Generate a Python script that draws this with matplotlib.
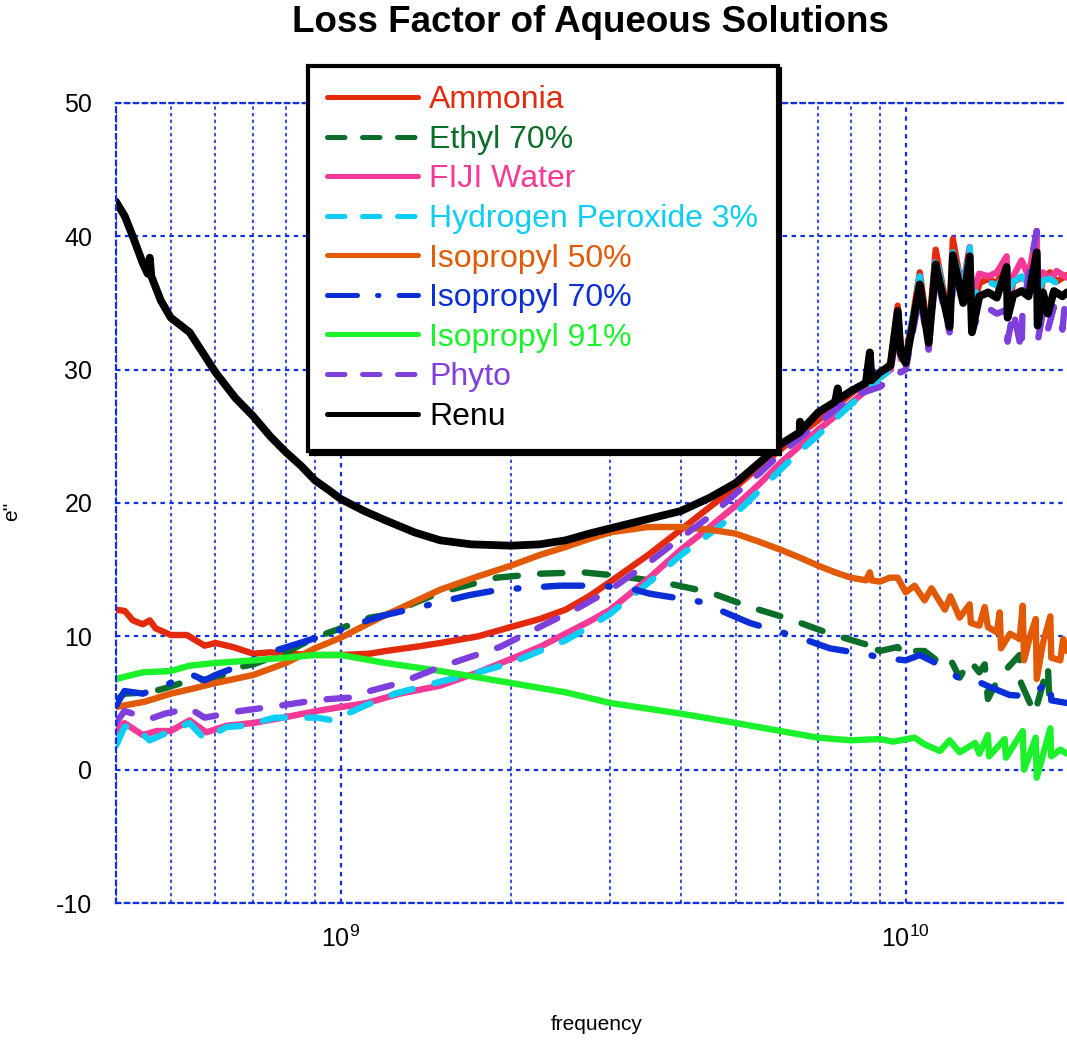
import numpy as np
import matplotlib
matplotlib.use("Agg")
import matplotlib.pyplot as plt
from matplotlib.ticker import LogLocator, LogFormatterMathtext, NullFormatter

plt.rcParams['font.family'] = ['Liberation Sans', 'DejaVu Sans']
plt.rcParams['mathtext.fontset'] = 'custom'
plt.rcParams['mathtext.rm'] = 'Liberation Sans'
plt.rcParams['mathtext.it'] = 'Liberation Sans:italic'
plt.rcParams['axes.unicode_minus'] = False

# frequencies in GHz, values of e''
ammonia_f = [0.400, 0.4147, 0.4283, 0.446, 0.459, 0.47, 0.5, 0.534, 0.574, 0.6, 0.644, 0.7, 0.749, 0.8, 0.9, 1.0,
             1.126, 1.2, 1.35, 1.5, 1.75, 2.0, 2.25, 2.5, 2.75, 3.0, 3.5, 4.0, 4.5, 5.0, 5.5, 6.0, 6.5, 7.0, 7.5,
             8.0, 8.5, 9.0, 9.4, 9.68, 9.8, 10.0, 10.3, 10.59, 10.98, 11.3, 11.96, 12.12, 12.64, 12.98, 13.1,
             13.5, 14.0, 14.5, 15.09, 15.15, 15.5, 16.04, 16.5, 17.06, 17.12, 17.5, 18.0, 18.5, 19.29]
ammonia = [12.0, 11.9, 11.2, 10.9, 11.2, 10.6, 10.1, 10.1, 9.3, 9.5, 9.2, 8.7, 8.8, 8.7, 8.6, 8.6,
           8.7, 8.9, 9.2, 9.5, 10.0, 10.7, 11.3, 12.0, 13.0, 14.1, 16.1, 18.0, 19.7, 21.2, 22.7, 24.0, 25.2, 26.2, 27.2,
           28.2, 29.0, 29.7, 30.5, 34.8, 31.5, 31.0, 34.0, 37.3, 32.5, 39.0, 33.5, 39.8, 35.5, 39.0, 34.0,
           36.5, 36.8, 36.5, 38.0, 34.5, 36.6, 36.9, 36.6, 39.5, 34.5, 36.8, 37.3, 36.6, 37.1]

ethyl_f = [0.400, 0.414, 0.459, 0.488, 0.54, 0.6, 0.663, 0.7, 0.8, 0.9, 1.0, 1.126, 1.2, 1.5, 1.888, 2.26, 2.68,
           3.0, 3.67, 4.5, 5.3, 6.23, 7.34, 8.5, 8.64, 8.7, 9.0, 9.68, 10.0, 10.37, 10.8, 11.5, 11.96, 12.46,
           12.98, 13.5, 13.8, 13.98, 14.67, 15.91, 16.0, 16.92, 17.85, 17.95, 18.78, 19.29]
ethyl = [5.2, 5.7, 5.8, 6.1, 6.7, 6.8, 7.7, 7.9, 8.8, 9.9, 10.6, 11.4, 11.6, 13.3, 14.4, 14.7, 14.8,
         14.6, 14.1, 13.3, 12.2, 11.3, 10.2, 9.4, 9.8, 9.2, 8.9, 9.2, 8.5, 8.9, 8.9, 8.0, 8.4, 6.9,
         8.2, 7.3, 7.9, 5.3, 7.0, 8.6, 6.5, 4.2, 7.8, 5.5, 5.7, 5.4]

fiji_f = [0.400, 0.414, 0.446, 0.472, 0.5, 0.54, 0.578, 0.628, 0.7, 0.79, 0.907, 0.968, 1.112, 1.2, 1.272, 1.5,
          1.75, 2.0, 2.25, 2.5, 2.75, 3.0, 3.5, 4.0, 4.5, 5.0, 5.5, 6.0, 6.5, 7.0, 7.5, 8.0, 8.5, 9.0, 9.4,
          9.68, 9.8, 10.0, 10.3, 10.59, 10.98, 11.3, 11.96, 12.12, 12.64, 12.98, 13.1, 13.5, 14.0, 14.5,
          15.09, 15.15, 15.5, 16.04, 16.5, 17.06, 17.12, 17.5, 18.0, 18.5, 19.29]
fiji = [2.9, 3.5, 2.6, 2.9, 2.9, 3.7, 2.8, 3.3, 3.5, 3.9, 4.4, 4.6, 5.0, 5.4, 5.7, 6.3,
        7.3, 8.3, 9.2, 10.2, 11.1, 12.0, 14.3, 16.5, 18.2, 19.8, 21.4, 23.0, 24.3, 25.5, 26.5, 27.5, 28.4, 29.4, 30.0,
        33.0, 30.8, 30.7, 33.5, 36.0, 32.0, 38.0, 33.0, 38.3, 36.5, 39.2, 35.5, 37.2, 37.0, 37.3,
        38.5, 35.0, 37.0, 38.2, 37.0, 40.4, 35.0, 37.3, 36.8, 37.4, 36.9]

peroxide_f = [0.400, 0.414, 0.4283, 0.459, 0.488, 0.54, 0.574, 0.628, 0.676, 0.764, 0.907, 0.968, 1.103, 1.246,
              1.5, 1.75, 2.0, 2.25, 2.5, 2.75, 3.0, 3.5, 4.0, 4.5, 5.0, 5.5, 6.0, 6.5, 7.0, 7.5, 8.0, 8.5, 9.0,
              9.4, 9.68, 9.8, 10.0, 10.3, 10.59, 10.98, 11.3, 11.96, 12.12, 12.64, 12.98, 13.1, 13.5, 14.0,
              14.5, 15.09, 15.15, 15.5, 16.04, 16.5, 17.06, 17.12, 17.5, 18.0, 18.5, 19.29]
peroxide = [1.8, 3.2, 3.3, 2.2, 2.7, 3.5, 2.3, 3.2, 3.3, 3.9, 3.9, 3.7, 4.8, 5.7,
            6.6, 7.3, 8.0, 8.9, 9.7, 10.7, 11.7, 14.0, 16.1, 17.7, 19.2, 20.9, 22.5, 23.9, 25.1, 26.3, 27.4, 28.3, 29.4,
            30.0, 33.5, 31.0, 31.0, 34.0, 37.0, 32.2, 38.7, 33.2, 38.8, 36.0, 39.4, 35.0, 36.5, 36.6,
            36.3, 37.2, 35.8, 36.6, 37.0, 36.4, 38.2, 35.8, 36.7, 36.8, 36.5, 36.6]

iso50_f = [0.400, 0.45, 0.5, 0.55, 0.6, 0.7, 0.8, 0.9, 1.0, 1.1, 1.2, 1.35, 1.5, 1.75, 2.0, 2.25, 2.5, 2.75,
           3.0, 3.5, 4.0, 4.5, 5.0, 5.5, 6.0, 6.5, 7.0, 7.5, 8.0, 8.5, 8.64, 8.7, 9.0, 9.37, 9.68, 10.0,
           10.37, 10.8, 11.11, 11.73, 12.0, 12.46, 12.98, 13.04, 13.5, 13.8, 13.98, 14.5, 14.67, 14.75,
           15.3, 15.91, 16.11, 16.2, 16.6, 16.99, 17.06, 17.5, 18.03, 18.1, 18.78, 19.0, 19.29]
iso50 = [4.7, 5.1, 5.7, 6.1, 6.5, 7.1, 8.0, 9.1, 9.9, 10.8, 11.6, 12.6, 13.5, 14.5, 15.3, 16.1, 16.7, 17.3,
         17.8, 18.2, 18.2, 18.0, 17.7, 17.1, 16.5, 15.9, 15.3, 14.8, 14.4, 14.2, 14.8, 14.2, 14.1, 14.4, 14.4, 13.3,
         13.8, 12.7, 13.6, 12.0, 13.0, 11.4, 12.4, 11.0, 10.8, 12.2, 10.7, 10.3, 11.8, 9.1,
         10.2, 9.8, 12.3, 8.2, 10.0, 11.3, 6.8, 9.5, 11.5, 8.4, 8.2, 9.8, 8.9]

iso70_f = [0.400, 0.414, 0.446, 0.488, 0.54, 0.574, 0.6, 0.644, 0.749, 0.846, 0.956, 1.08, 1.2, 1.38, 1.692,
           1.912, 2.44, 2.87, 3.25, 3.52, 4.32, 5.3, 6.49, 7.34, 8.64, 9.0, 10.0, 10.59, 11.3, 11.96, 12.46,
           13.27, 14.1, 15.27, 16.58, 18.03, 18.1, 19.29]
iso70 = [4.8, 5.9, 5.7, 6.3, 7.2, 6.7, 7.1, 7.6, 8.8, 9.5, 10.2, 11.0, 11.6, 12.2, 13.1,
         13.5, 13.8, 13.8, 13.6, 13.2, 12.6, 11.0, 9.9, 9.1, 8.6, 8.4, 8.2, 8.6, 8.0, 7.4, 6.8,
         6.7, 6.2, 5.6, 5.5, 6.7, 5.2, 5.0]

iso91_f = [0.400, 0.446, 0.5, 0.54, 0.6, 0.7, 0.8, 0.9, 1.0, 1.2, 1.5, 2.0, 2.5, 3.0, 4.0, 5.0, 6.0, 7.0, 8.0,
           9.0, 9.5, 10.37, 10.8, 11.5, 11.96, 12.46, 13.27, 13.5, 13.98, 14.05, 14.97, 15.05, 16.11, 16.2,
           16.99, 17.06, 18.03, 18.1, 18.78, 19.29]
iso91 = [6.8, 7.3, 7.4, 7.8, 8.0, 8.2, 8.4, 8.6, 8.6, 8.0, 7.4, 6.5, 5.8, 5.0, 4.2, 3.5, 2.9, 2.4, 2.2,
         2.3, 2.1, 2.4, 1.9, 1.4, 2.2, 1.3, 2.0, 1.2, 2.6, 1.0, 2.3, 0.9, 2.9, 0.0,
         2.4, -0.6, 3.1, 1.0, 1.5, 1.2]

phyto_f = [0.400, 0.414, 0.459, 0.488, 0.54, 0.574, 0.663, 0.78, 0.9, 0.956, 1.037, 1.126, 1.272, 1.5, 1.912,
           2.25, 2.65, 3.0, 3.5, 4.0, 4.5, 5.0, 5.5, 6.0, 6.5, 7.0, 7.5, 8.0, 9.0, 9.5, 10.0, 10.59, 10.98,
           11.3, 11.96, 12.22, 12.64, 13.04, 13.1, 13.5, 14.0, 14.5, 15.09, 15.15, 15.5, 16.04, 16.1, 17.06,
           17.12, 17.5, 17.85, 18.3, 18.95, 19.1, 19.29]
phyto = [3.5, 4.4, 3.8, 4.2, 4.6, 3.9, 4.4, 4.8, 5.2, 5.3, 5.4, 5.9, 6.5, 7.7, 9.2,
         10.7, 12.2, 13.5, 15.5, 17.4, 19.0, 20.7, 22.2, 23.7, 24.9, 26.0, 27.0, 28.0, 28.7, 29.5, 30.0, 35.6, 31.5,
         37.3, 32.8, 38.0, 34.5, 37.7, 32.8, 34.3, 34.6, 34.2, 34.5, 32.1, 34.4, 31.4, 34.5, 40.4,
         32.1, 34.3, 33.0, 34.7, 33.0, 34.6, 34.7]

renu_f = [0.400, 0.4147, 0.4283, 0.446, 0.455, 0.459, 0.462, 0.48, 0.5, 0.54, 0.6, 0.65, 0.7, 0.75, 0.8, 0.85,
          0.9, 0.95, 1.0, 1.1, 1.2, 1.35, 1.5, 1.7, 2.0, 2.25, 2.5, 2.75, 3.0, 3.5, 4.0, 4.5, 5.0, 5.5, 6.0,
          6.49, 6.5, 6.52, 7.0, 7.5, 7.58, 7.62, 8.0, 8.5, 8.64, 8.7, 9.0, 9.4, 9.68, 9.8, 10.0, 10.3, 10.59,
          10.98, 11.3, 11.96, 12.12, 12.64, 12.98, 13.1, 13.5, 14.0, 14.5, 15.09, 15.15, 15.5, 16.04, 16.5,
          17.06, 17.12, 17.5, 17.85, 18.3, 18.95, 19.29]
renu = [42.6, 41.5, 40.0, 38.0, 37.2, 38.4, 37.0, 35.2, 33.9, 32.8, 29.8, 27.9, 26.5, 25.0, 23.8, 22.8,
        21.7, 21.0, 20.3, 19.4, 18.7, 17.8, 17.2, 16.9, 16.8, 16.9, 17.2, 17.7, 18.1, 18.8, 19.4, 20.4, 21.5, 23.0, 24.4,
        25.3, 26.1, 25.4, 26.8, 27.6, 28.6, 27.8, 28.4, 29.0, 31.3, 29.2, 29.8, 30.3, 34.4, 31.2, 30.5, 33.5, 36.4,
        32.0, 37.9, 33.2, 38.6, 35.0, 38.5, 32.8, 35.5, 35.8, 35.4, 37.7, 33.9, 35.6, 35.9, 35.5,
        38.8, 33.3, 35.8, 34.2, 35.9, 35.5, 35.8]

names = ["Ammonia", "Ethyl 70%", "FIJI Water", "Hydrogen Peroxide 3%", "Isopropyl 50%",
         "Isopropyl 70%", "Isopropyl 91%", "Phyto", "Renu"]
colors = ["#e42a0c", "#0b6f2a", "#f43a96", "#0ccdf4", "#e25a06", "#0a2fd6", "#1cf22c", "#7f3fdc", "#000000"]


def main():
    series = [(ammonia_f, ammonia), (ethyl_f, ethyl), (fiji_f, fiji), (peroxide_f, peroxide),
              (iso50_f, iso50), (iso70_f, iso70), (iso91_f, iso91), (phyto_f, phyto), (renu_f, renu)]
    styles = ['-', (0, (3.5, 3.5)), '-', (0, (3.5, 3.5)), '-', (0, (6, 4, 0.3, 4)), '-', (0, (3.5, 3.5)), '-']
    widths = [4.6, 4.6, 4.6, 4.6, 4.6, 4.6, 4.6, 4.6, 5.6]

    fig = plt.figure(figsize=(10.67, 10.40), dpi=100)
    ax = fig.add_axes([116 / 1067, 1 - 903 / 1040, 951 / 1067, 800 / 1040])

    for (f, v), name, c, ls, lw in zip(series, names, colors, styles, widths):
        ax.plot(np.array(f) * 1e9, v, color=c, lw=lw, ls=ls, label=name,
                solid_capstyle='round', dash_capstyle='round', solid_joinstyle='round')

    ax.set_xscale('log')
    ax.set_xlim(4e8, 1.93e10)
    ax.set_ylim(-10, 50)
    ax.set_yticks([-10, 0, 10, 20, 30, 40, 50])
    ax.xaxis.set_major_locator(LogLocator(base=10))
    ax.xaxis.set_major_formatter(LogFormatterMathtext())
    ax.xaxis.set_minor_locator(LogLocator(base=10, subs=np.arange(2, 10)))
    ax.xaxis.set_minor_formatter(NullFormatter())

    grid_c = "#1030e0"
    ax.grid(True, which='major', color=grid_c, ls=(0, (2, 2)), lw=1.6)
    ax.grid(True, which='minor', axis='x', color=grid_c, ls=(0, (2, 2)), lw=1.2)
    ax.set_axisbelow(True)
    for s in ['left', 'top', 'bottom']:
        ax.spines[s].set_color(grid_c)
        ax.spines[s].set_linestyle((0, (2, 2)))
        ax.spines[s].set_linewidth(1.6)
    ax.spines['right'].set_visible(False)

    ax.tick_params(axis='both', which='both', length=0)
    ax.tick_params(axis='y', labelsize=18, pad=17)
    ax.tick_params(axis='x', labelsize=18, pad=16)

    ax.set_xlabel("frequency", fontsize=15)
    ax.xaxis.set_label_coords(0.505, -0.14)
    ax.set_ylabel("e''", fontsize=15)
    ax.yaxis.set_label_coords(-0.1, 0.49)

    fig.text(590 / 1067, 1 - 23 / 1040, "Loss Factor of Aqueous Solutions", fontsize=26.5,
             fontweight='bold', ha='center', va='center')

    leg = ax.legend(loc='upper left', bbox_to_anchor=(308 / 1067, 1 - 66 / 1040),
                    bbox_transform=fig.transFigure, fontsize=23, frameon=True, fancybox=False,
                    shadow={'color': 'black', 'alpha': 1}, handlelength=2.85, handletextpad=0.35,
                    labelspacing=0.3, borderpad=0.6, borderaxespad=0)
    leg.get_frame().set_edgecolor('black')
    leg.get_frame().set_linewidth(3)
    leg.get_frame().set_alpha(1)
    for t, c in zip(leg.get_texts(), colors):
        t.set_color(c)
    for h in leg.get_lines():
        h.set_linewidth(3.6)

    fig.savefig("out.png", dpi=100)


if __name__ == "__main__":
    main()
